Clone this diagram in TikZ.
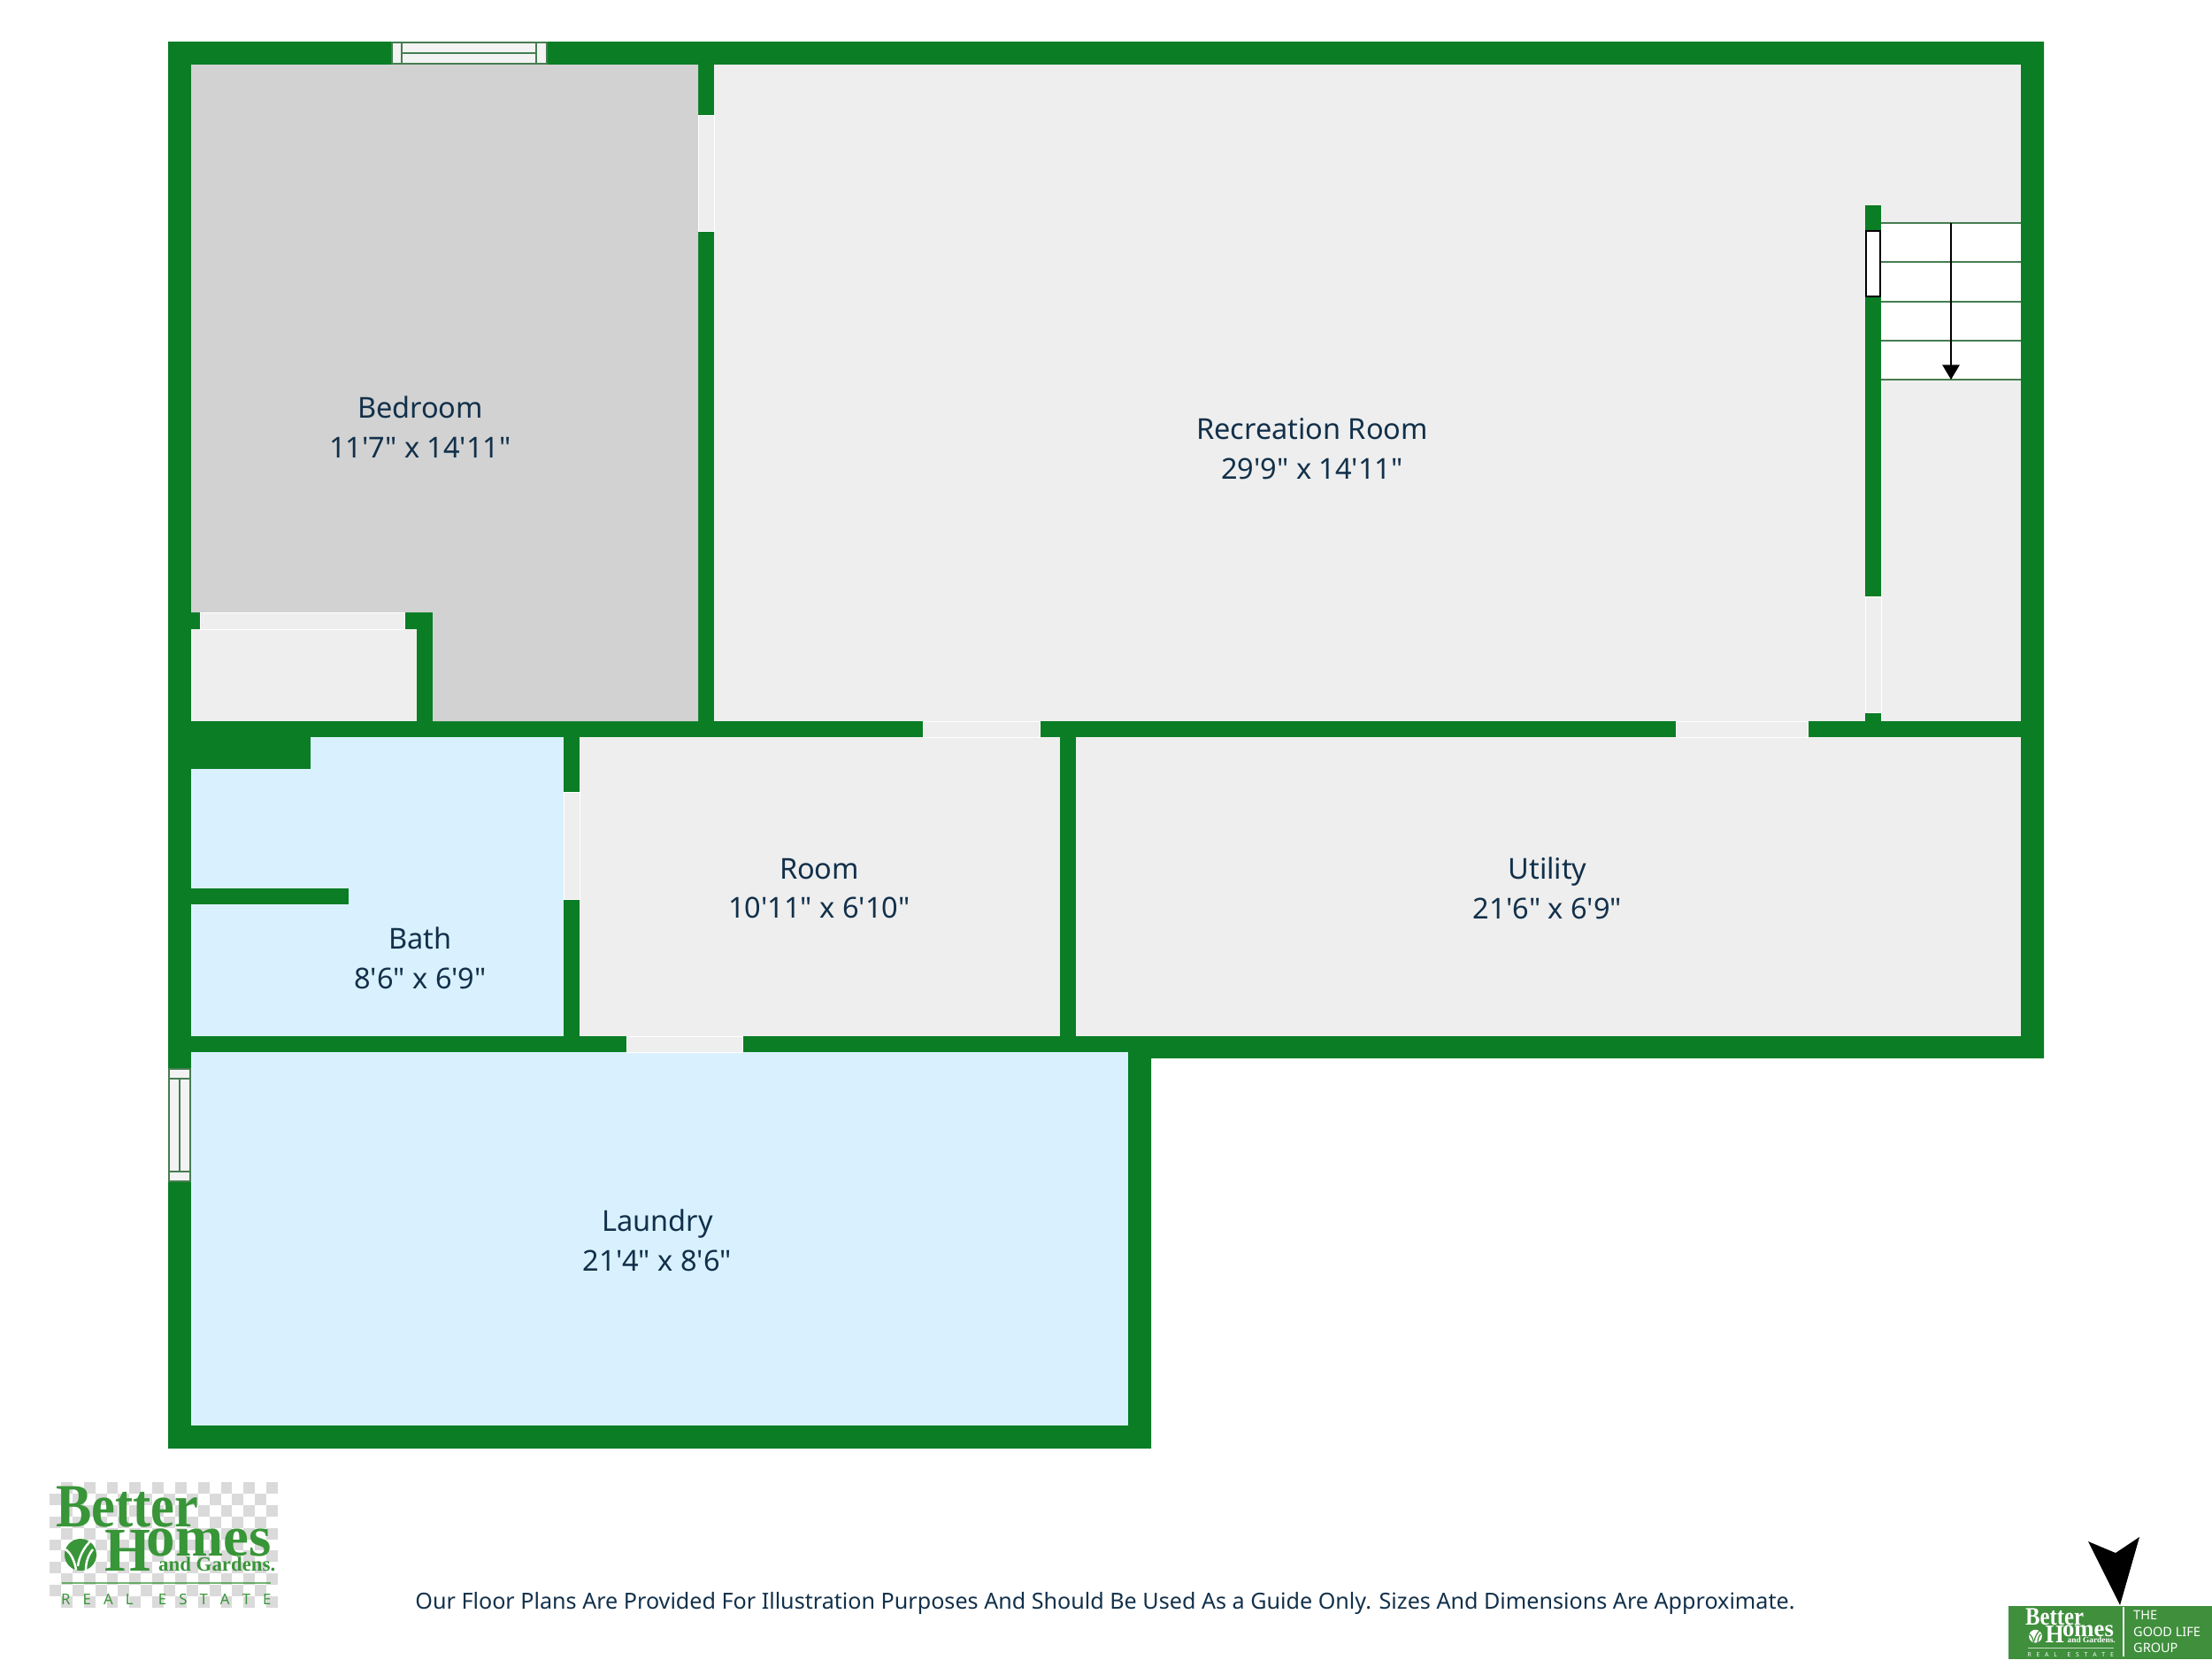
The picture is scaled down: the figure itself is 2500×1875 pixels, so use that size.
\documentclass[tikz,border=0pt]{standalone}
\usepackage{graphicx}
\usepackage{fontspec}
\newfontfamily\plansans{Noto Sans}
\newfontfamily\logoserif{Liberation Serif}
\usetikzlibrary{arrows.meta}

\definecolor{wallgreen}{HTML}{0A7D25}
\definecolor{bedgrey}{HTML}{D2D2D2}
\definecolor{roomgrey}{HTML}{EEEEEE}
\definecolor{bathblue}{HTML}{D9F1FE}
\definecolor{framegreen}{HTML}{457D50}
\definecolor{inkblue}{HTML}{12304A}
\definecolor{logogreen}{HTML}{389538}
\definecolor{badgegreen}{HTML}{3F8F3C}
\definecolor{checkgrey}{HTML}{DADADA}

\newcommand{\logoleaf}{1}
\newcommand{\logomark}[3]{
  \node[logo text=#1,font=\logoserif\bfseries\fontsize{79}{79}\selectfont] (#3better) at (63,1725) {\scalebox{0.87}[1]{Better}};
  \node[logo text=#1,font=\logoserif\bfseries\fontsize{80}{80}\selectfont] (#3homes) at (118,1775)
    {\scalebox{0.95}[1]{H}\kern-5pt\raisebox{19pt}{\fontsize{74}{74}\selectfont omes}};
  \node[logo text=#1,font=\logoserif\bfseries\fontsize{26}{26}\selectfont] (#3gardens) at (179,1775) {and Gardens.};
  \fill[#1] (91,1757) circle (18);
  \draw[#2,line width=\logoleaf*2.8pt] (74,1751) .. controls (80,1755) and (84,1763) .. (86,1774);
  \draw[#2,line width=\logoleaf*2.8pt] (88,1770) .. controls (89,1760) and (95,1748) .. (103,1741);
  \draw[#2,line width=\logoleaf*2.8pt] (105,1751) .. controls (100,1757) and (97,1765) .. (97,1774);
  \fill[#1,opacity=0.7] (70,1788) rectangle (306,1790);
  \node[logo text=#1,font=\plansans\fontsize{19}{19}\selectfont] (#3estate) at (69,1813)
    {\hbox to 270pt{R\hfil E\hfil A\hfil L\hfil\hfil E\hfil S\hfil T\hfil A\hfil T\hfil E}};
}

\begin{document}
\begin{tikzpicture}[x=0.04cm,y=-0.04cm,
  wall/.style={fill=wallgreen},
  door gap/.style={fill=roomgrey,draw=white,line width=1pt},
  win frame/.style={fill=roomgrey!70!white,draw=framegreen,line width=1.6pt},
  tread/.style={draw=framegreen,line width=2.2pt},
  room node/.style={align=center,text=inkblue,inner sep=0pt,font=\plansans\fontsize{37}{51}\selectfont},
  logo text/.style={anchor=base west,inner sep=0pt,text=#1}]

  \useasboundingbox (0,0) rectangle (2500,1875);

  \fill[wall] (190,47) -- (2310,47) -- (2310,1196) -- (1301,1196) -- (1301,1637) -- (190,1637) -- cycle;

  \fill[bedgrey] (216,73) -- (789,73) -- (789,815) -- (489,815) -- (489,692) -- (216,692) -- cycle;
  \fill[roomgrey] (216,711) rectangle (471,815);
  \fill[roomgrey] (807,73) rectangle (2284,815);
  \fill[bathblue] (216,833) rectangle (637,1171);
  \fill[roomgrey] (655,833) rectangle (1198,1171);
  \fill[roomgrey] (1216,833) rectangle (2284,1171);
  \fill[bathblue] (216,1189) rectangle (1275,1611);

  \fill[wall] (216,833) rectangle (351,869);
  \fill[wall] (216,1004) rectangle (394,1022);
  \fill[wall] (2108,232) rectangle (2126,815);

  \fill[white] (2126,252) rectangle (2284,429);
  \foreach \y in {252,296,341,385,429}
    \draw[tread] (2126,\y) -- (2284,\y);
  \coordinate (stairtop) at (2205,252);
  \coordinate (stairend) at (2205,429);
  \draw[-{Triangle[length=19pt,width=22pt]},line width=2.2pt,black] (stairtop) -- (stairend);

  \draw[door gap] (226,692) rectangle (457,711);
  \draw[door gap] (789,130) rectangle (807,261);
  \draw[door gap] (2108,674) rectangle (2126,805);
  \draw[door gap] (1043,815) rectangle (1175,833);
  \draw[door gap] (1894,815) rectangle (2043,833);
  \draw[door gap] (637,895) rectangle (655,1016);
  \draw[door gap] (708,1171) rectangle (839,1189);
  \draw[fill=white,draw=black,line width=1.8pt] (2109,261) rectangle (2125,335);

  \draw[win frame] (443,48) rectangle (618,72);
  \draw[win frame] (454,48) -- (454,72) (606,48) -- (606,72) (454,60) -- (606,60);
  \draw[win frame] (191,1208) rectangle (215,1335);
  \draw[win frame] (191,1219) -- (215,1219) (191,1324) -- (215,1324) (203,1219) -- (203,1324);

  \node[room node] (bedroom) at (475,483) {Bedroom\\11'7" x 14'11"};
  \node[room node] (recroom) at (1483,507) {Recreation Room\\29'9" x 14'11"};
  \node[room node] (bathroom) at (475,1083) {Bath\\8'6" x 6'9"};
  \node[room node] (plainroom) at (926,1004) {Room\\10'11" x 6'10"};
  \node[room node] (utility) at (1749,1004) {Utility\\21'6" x 6'9"};
  \node[room node] (laundry) at (743,1402) {Laundry\\21'4" x 8'6"};

  \node[text=inkblue,inner sep=0pt,anchor=base,font=\plansans\fontsize{28.6}{34}\selectfont] (footnote) at (1249,1818)
    {Our Floor Plans Are Provided For Illustration Purposes And Should Be Used As a Guide Only. Sizes And Dimensions Are Approximate.};

  \foreach \i in {0,...,19} {
    \foreach \j in {0,...,10} {
      \ifodd\numexpr\i+\j\relax
        \fill[checkgrey] (56+12.9*\i,1675+12.9*\j) rectangle ++(12.9,12.9);
      \fi
    }
  }
  \logomark{logogreen}{white}{main}

  \fill[black] (2360,1742) -- (2391,1755) -- (2418,1737) -- (2396,1814) -- cycle;

  \fill[badgegreen] (2270,1815) rectangle (2500,1875);
  \fill[white] (2399,1816) rectangle (2401,1872);
  \begin{scope}[shift={(2289,1836)},scale=0.41,transform shape,shift={(-63,-1725)}]
    \renewcommand{\logoleaf}{0.5}
    \logomark{white}{badgegreen}{small}
  \end{scope}
  \node[text=white,inner sep=0pt,anchor=base west,font=\plansans\bfseries\fontsize{16.5}{20.5}\selectfont,align=left] (groupname) at (2411,1867) {THE\\GOOD LIFE\\GROUP};
\end{tikzpicture}
\end{document}
